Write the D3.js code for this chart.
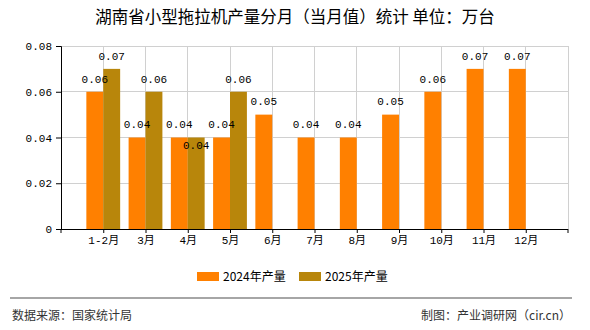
<!DOCTYPE html>
<html><head><meta charset="utf-8">
<script src="https://cdn.jsdelivr.net/npm/d3@7/dist/d3.min.js"></script>
<style>
html,body{margin:0;padding:0;background:#fff;}
svg{display:block;}
</style></head>
<body>
<script>
const categories = ["1-2月","3月","4月","5月","6月","7月","8月","9月","10月","11月","12月"];
const values2024 = [0.06,0.04,0.04,0.04,0.05,0.04,0.04,0.05,0.06,0.07,0.07];
const values2025 = [0.07,0.06,0.04,0.06];
const seriesNames = ["2024年产量","2025年产量"];
const yTicks = [0,0.02,0.04,0.06,0.08];
const titleText = "湖南省小型拖拉机产量分月（当月值）统计 单位：万台";
const sourceText = "数据来源：国家统计局";
const makerText = "制图：产业调研网（cir.cn）";

const W = 590, H = 330;
const colors = ["#FF8000","#B8860B"];
const numFont = "'Liberation Mono','DejaVu Sans Mono','Noto Sans CJK SC',monospace";
const cjkFont = "'Noto Sans CJK SC','Noto Sans',sans-serif";

const svg = d3.select("body").append("svg").attr("width",W).attr("height",H);
const m = {left:61, right:568, top:46, bottom:229};

const x = d3.scalePoint().domain(categories).range([m.left,m.right]).padding(1);
const y = d3.scaleLinear().domain([0,0.08]).range([m.bottom,m.top]);
const step = x.step();
const bw = step*0.4;

// grid
const g = svg.append("g");
g.selectAll(".hg").data(yTicks.filter(d=>d>0)).enter().append("line")
  .attr("x1",m.left).attr("x2",m.right).attr("y1",d=>y(d)).attr("y2",d=>y(d))
  .attr("stroke","#d0d0d0").attr("stroke-width",1).attr("shape-rendering","crispEdges");
g.selectAll(".vg").data(categories).enter().append("line")
  .attr("x1",d=>x(d)).attr("x2",d=>x(d)).attr("y1",m.top).attr("y2",m.bottom)
  .attr("stroke","#d0d0d0").attr("stroke-width",1).attr("shape-rendering","crispEdges");
g.append("line").attr("x1",m.right).attr("x2",m.right).attr("y1",m.top).attr("y2",m.bottom)
  .attr("stroke","#d0d0d0").attr("shape-rendering","crispEdges");

// bars
const b24 = categories.map((c,i)=>({c,v:values2024[i]}));
const b25 = values2025.map((v,i)=>({c:categories[i],v}));
svg.append("g").selectAll("rect").data(b24).enter().append("rect")
  .attr("x",d=>x(d.c)-bw).attr("width",bw)
  .attr("y",d=>y(d.v)).attr("height",d=>y(0)-y(d.v)).attr("fill",colors[0]);
svg.append("g").selectAll("rect").data(b25).enter().append("rect")
  .attr("x",d=>x(d.c)).attr("width",bw)
  .attr("y",d=>y(d.v)).attr("height",d=>y(0)-y(d.v)).attr("fill",colors[1]);

// value labels
const lab = svg.append("g").attr("font-family",numFont).attr("font-size",11).attr("fill","#000")
  .attr("text-anchor","middle");
lab.selectAll(".l24").data(b24).enter().append("text")
  .attr("x",d=>x(d.c)-bw/2).attr("y",d=>y(d.v)-13).attr("dy","0.35em").text(d=>d.v.toFixed(2));
lab.selectAll(".l25").data(b25).enter().append("text")
  .attr("x",d=>x(d.c)+bw/2)
  .attr("y",(d,i)=> d.v===values2024[i] ? y(d.v)+8 : y(d.v)-13)
  .attr("dy","0.35em").text(d=>d.v.toFixed(2));

// axes
const ya = svg.append("g").attr("transform",`translate(${m.left},0)`)
  .call(d3.axisLeft(y).tickValues(yTicks).tickSize(5).tickPadding(4).tickFormat(d=>d===0?"0":d.toFixed(2)));
ya.select(".domain").attr("stroke","#000");
ya.selectAll("text").attr("font-family",numFont).attr("font-size",11).attr("fill","#000");

const xa = svg.append("g").attr("transform",`translate(0,${m.bottom})`)
  .call(d3.axisBottom(x).tickSize(4).tickPadding(3).tickSizeOuter(0));
xa.select(".domain").attr("stroke","#000").attr("d",`M${m.left},0.5H${m.right}`);
xa.selectAll("text").attr("font-family",numFont).attr("font-size",11).attr("fill","#000");
[m.left,m.right].forEach(px=>xa.append("line").attr("x1",px).attr("x2",px).attr("y1",0).attr("y2",4).attr("stroke","#000"));

// title
svg.append("text").attr("x",295).attr("y",17).attr("dy","0.35em").attr("text-anchor","middle")
  .attr("font-family",cjkFont).attr("font-size",16.5).attr("fill","#000").text(titleText);

// legend
const lg = svg.append("g").attr("font-family",cjkFont).attr("font-size",12).attr("fill","#000");
const lx = [197,299];
seriesNames.forEach((n,i)=>{
  lg.append("rect").attr("x",lx[i]).attr("y",272).attr("width",22).attr("height",9).attr("fill",colors[i]);
  lg.append("text").attr("x",lx[i]+26).attr("y",277).attr("dy","0.35em").text(n);
});

// footer
svg.append("line").attr("x1",10).attr("x2",572).attr("y1",298).attr("y2",298)
  .attr("stroke","#888").attr("stroke-width",1.5);
svg.append("text").attr("x",12).attr("y",316).attr("dy","0.35em").attr("font-family",cjkFont)
  .attr("font-size",12).attr("fill","#333").text(sourceText);
svg.append("text").attr("x",571).attr("y",316).attr("dy","0.35em").attr("text-anchor","end")
  .attr("font-family",cjkFont).attr("font-size",12).attr("fill","#333").text(makerText);
</script>
</body></html>
